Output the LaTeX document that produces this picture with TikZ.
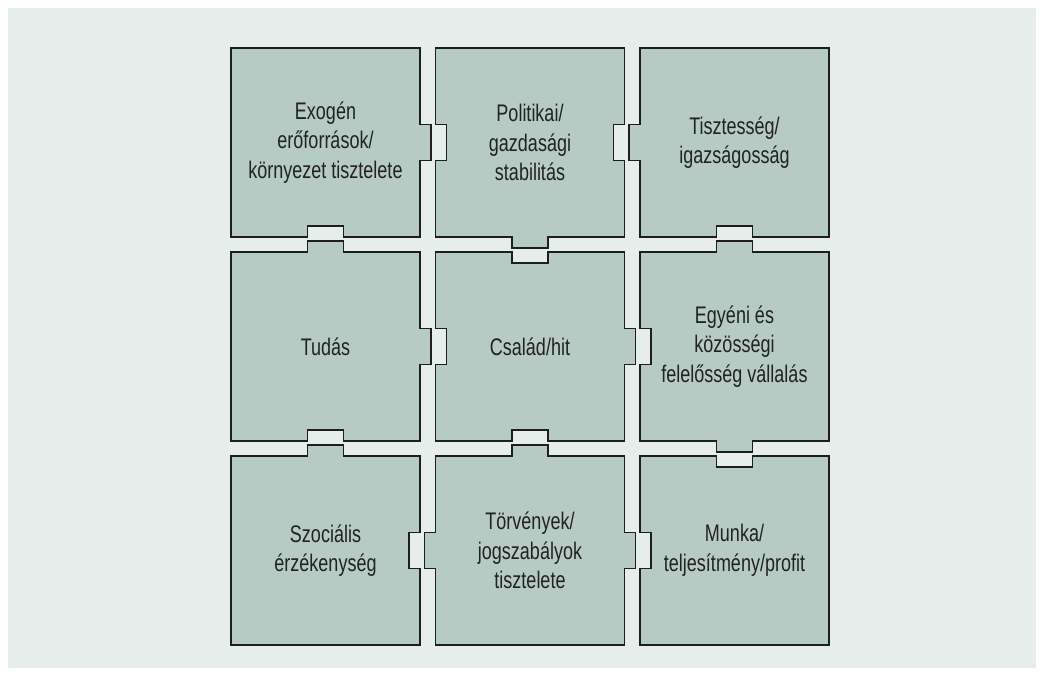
\documentclass[tikz,border=0pt]{standalone}
\usepackage{fontspec}
\setmainfont{Liberation Sans}[FakeStretch=0.75]
\definecolor{bgcol}{HTML}{E6EEEB}
\definecolor{piececol}{HTML}{B5CBC3}
\definecolor{edgecol}{HTML}{1E1E1E}
\definecolor{txtcol}{HTML}{222222}
\tikzset{
  piece/.style={draw=edgecol, fill=piececol, line width=1.3pt, line join=miter},
  lbl/.style={align=center, text=txtcol, font=\fontsize{24}{29.5}\selectfont, inner sep=0pt}
}
% #1 x, #2 y, #3 top, #4 right, #5 bottom, #6 left (1 tab, -1 notch, 0 flat), #7 name, #8 text
\newcommand\jpiece[8]{%
\begin{scope}[shift={(#1,#2)}]
\draw[piece] (0,0) -- (76.5,0) -- (76.5,{-11*(#3)}) -- (112.5,{-11*(#3)}) -- (112.5,0) -- (189,0)
 -- (189,76.5) -- ({189+11*(#4)},76.5) -- ({189+11*(#4)},112.5) -- (189,112.5) -- (189,189)
 -- (112.5,189) -- (112.5,{189+11*(#5)}) -- (76.5,{189+11*(#5)}) -- (76.5,189) -- (0,189)
 -- (0,112.5) -- ({-11*(#6)},112.5) -- ({-11*(#6)},76.5) -- (0,76.5) -- cycle;
\node[lbl] (#7) at (94.5,94.5) {#8};
\end{scope}}
\begin{document}
\begin{tikzpicture}[x=1pt,y=-1pt]
\useasboundingbox (0,0) rectangle (1044,676);
\fill[white] (0,0) rectangle (1044,676);
\fill[bgcol] (8,8) rectangle (1036,668);
\jpiece{231}{48}{0}{1}{-1}{0}{p11}{Exogén\\erőforrások/\\környezet tisztelete}
\jpiece{435.5}{48}{0}{-1}{1}{-1}{p12}{Politikai/\\gazdasági\\stabilitás}
\jpiece{640}{48}{0}{0}{-1}{1}{p13}{Tisztesség/\\igazságosság}
\jpiece{231}{252}{1}{1}{-1}{0}{p21}{Tudás}
\jpiece{435.5}{252}{-1}{1}{-1}{-1}{p22}{Család/hit}
\jpiece{640}{252}{1}{0}{1}{-1}{p23}{Egyéni és\\közösségi\\felelősség vállalás}
\jpiece{231}{456}{1}{-1}{0}{0}{p31}{Szociális\\érzékenység}
\jpiece{435.5}{456}{1}{1}{0}{1}{p32}{Törvények/\\jogszabályok\\tisztelete}
\jpiece{640}{456}{-1}{0}{0}{-1}{p33}{Munka/\\teljesítmény/profit}
\end{tikzpicture}
\end{document}
